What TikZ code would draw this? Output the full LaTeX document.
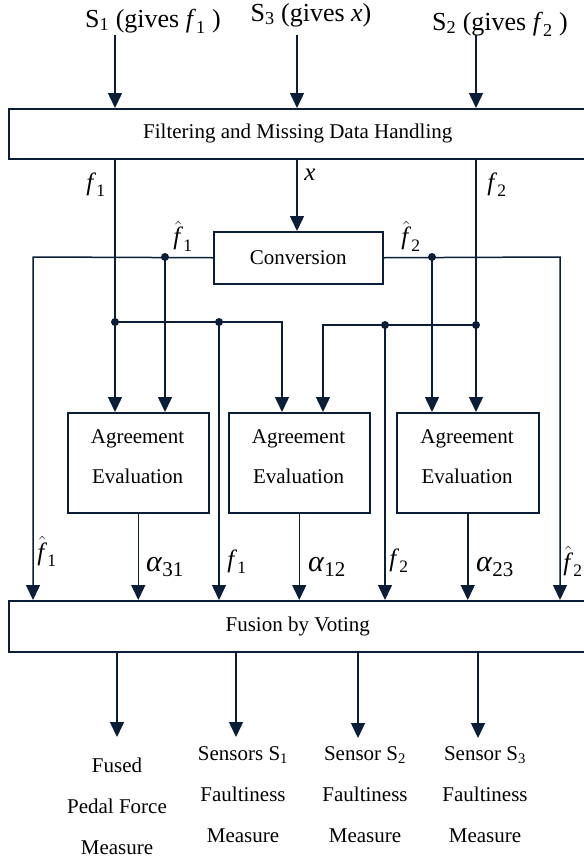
\documentclass[tikz,border=0pt]{standalone}
\usepackage{amsmath}
\usepackage{fontspec}
\setmainfont{Liberation Serif}
\usetikzlibrary{arrows.meta}
\definecolor{ln}{RGB}{10,30,55}
\newcommand{\fsym}{\mbox{\textit{f}}}
\newcommand{\asym}{\mbox{\textit{α}}}
\newcommand{\sub}[1]{_{\text{#1}}}
\begin{document}
\begin{tikzpicture}[x=1pt,y=-1pt,
  ln/.style={draw=ln,line width=1.5pt},
  arr/.style={ln,-{Triangle[width=14pt,length=15pt]}},
  box/.style={draw=ln,line width=1.5pt,rectangle,inner sep=0pt,anchor=north west,font=\fontsize{21}{25}\selectfont},
  txt/.style={inner sep=0pt,font=\fontsize{21}{25}\selectfont},
  outtxt/.style={inner sep=0pt,align=center,font=\fontsize{21}{41}\selectfont},
  toplab/.style={inner sep=0pt,anchor=base,font=\fontsize{26}{30}\selectfont},
  flab/.style={inner sep=0pt,font=\fontsize{25}{28}\selectfont},
  alab/.style={inner sep=0pt,font=\fontsize{30}{32}\selectfont},
  dot/.style={fill=ln}]
\useasboundingbox (0,0) rectangle (584,863);

% top labels
\node[toplab] (s1) at (153,27) {S\textsubscript{1} (gives $\fsym\sub{1}$ )};
\node[toplab] (s3) at (311,21) {S\textsubscript{3} (gives \textit{x})};
\node[toplab] (s2) at (500,30) {S\textsubscript{2} (gives $\fsym\sub{2}$ )};

% boxes
\node[box,minimum width=578pt,minimum height=50pt] (filt) at (8,108) {Filtering and Missing Data Handling};
\node[box,minimum width=169pt,minimum height=52pt] (conv) at (213,231) {Conversion};
\node[box,minimum width=141pt,minimum height=100pt] (ag1) at (67,412) {};
\node[box,minimum width=141pt,minimum height=100pt] (ag2) at (228,412) {};
\node[box,minimum width=142pt,minimum height=100pt] (ag3) at (396,412) {};
\node[box,minimum width=578pt,minimum height=51pt] (fus) at (8,600) {Fusion by Voting};

\foreach \n/\x in {1/137.5,2/298.5,3/467}{
  \node[txt,anchor=base] (agA\n) at (\x,443) {Agreement};
  \node[txt,anchor=base] (agB\n) at (\x,483) {Evaluation};
}

% coordinates
\coordinate (s1a) at (115,35);
\coordinate (s3a) at (297,35);
\coordinate (s2a) at (476,35);
\coordinate (lc) at (33,257);
\coordinate (rc) at (560,257);
\coordinate (dA) at (165,257);
\coordinate (dF) at (432,257);
\coordinate (dB) at (115,322);
\coordinate (dC) at (219,322);
\coordinate (jl) at (282,322);
\coordinate (dE) at (476,325);
\coordinate (dD) at (385,325);
\coordinate (jr) at (323,325);
\coordinate (o1) at (117,737);
\coordinate (o2) at (236,737);
\coordinate (o3) at (358,738);
\coordinate (o4) at (478,738);

% inputs
\draw[arr] (s1a) -- (s1a |- filt.north);
\draw[arr] (s3a) -- (s3a |- filt.north);
\draw[arr] (s2a) -- (s2a |- filt.north);

% from filter
\draw[arr] (s1a |- filt.south) -- (s1a |- ag1.north);
\draw[arr] (s3a |- filt.south) -- (s3a |- conv.north);
\draw[arr] (s2a |- filt.south) -- (s2a |- ag3.north);

% conversion outputs
\draw[arr] (conv.west) -- (lc) -- (lc |- fus.north);
\draw[arr] (conv.east) -- (rc) -- (rc |- fus.north);
\draw[arr] (dA) -- (dA |- ag1.north);
\draw[arr] (dF) -- (dF |- ag3.north);

% junctions
\draw[arr] (dB) -- (jl) -- (jl |- ag2.north);
\draw[arr] (dC) -- (dC |- fus.north);
\draw[arr] (dE) -- (jr) -- (jr |- ag2.north);
\draw[arr] (dD) -- (dD |- fus.north);

% agreement outputs
\draw[arr] (ag1.south) -- (ag1.south |- fus.north);
\draw[arr] (ag2.south) -- (ag2.south |- fus.north);
\draw[arr] (ag3.south) -- (ag3.south |- fus.north);

% fusion outputs
\draw[arr] (o1 |- fus.south) -- (o1);
\draw[arr] (o2 |- fus.south) -- (o2);
\draw[arr] (o3 |- fus.south) -- (o3);
\draw[arr] (o4 |- fus.south) -- (o4);

% dots
\foreach \d in {dA,dF,dB,dC,dE,dD}{\fill[dot] (\d) circle (4pt);}

% line labels
\node[flab] (lf1) at (96,185) {$\fsym\sub{1}$};
\node[flab] (lx) at (310,175) {\textit{x}};
\node[flab] (lf2) at (497,185) {$\fsym\sub{2}$};
\node[flab] (lh1) at (183,236) {$\hat{\fsym}\sub{1}$};
\node[flab] (lh2) at (411,236) {$\hat{\fsym}\sub{2}$};
\node[flab] (lh1b) at (47,551) {$\hat{\fsym}\sub{1}$};
\node[flab] (lf1b) at (237,562) {$\fsym\sub{1}$};
\node[flab] (lf2b) at (399,561) {$\fsym\sub{2}$};
\node[flab] (lh2b) at (573,561) {$\hat{\fsym}\sub{2}$};
\node[alab] (la31) at (165,567) {$\asym\sub{31}$};
\node[alab] (la12) at (327,567) {$\asym\sub{12}$};
\node[alab] (la23) at (495,567) {$\asym\sub{23}$};

% output texts
\node[outtxt] (t1) at (117,806) {Fused\\Pedal Force\\Measure};
\node[outtxt] (t2) at (243,795) {Sensors S\textsubscript{1}\\Faultiness\\Measure};
\node[outtxt] (t3) at (365,795) {Sensor S\textsubscript{2}\\Faultiness\\Measure};
\node[outtxt] (t4) at (485,795) {Sensor S\textsubscript{3}\\Faultiness\\Measure};
\end{tikzpicture}
\end{document}
